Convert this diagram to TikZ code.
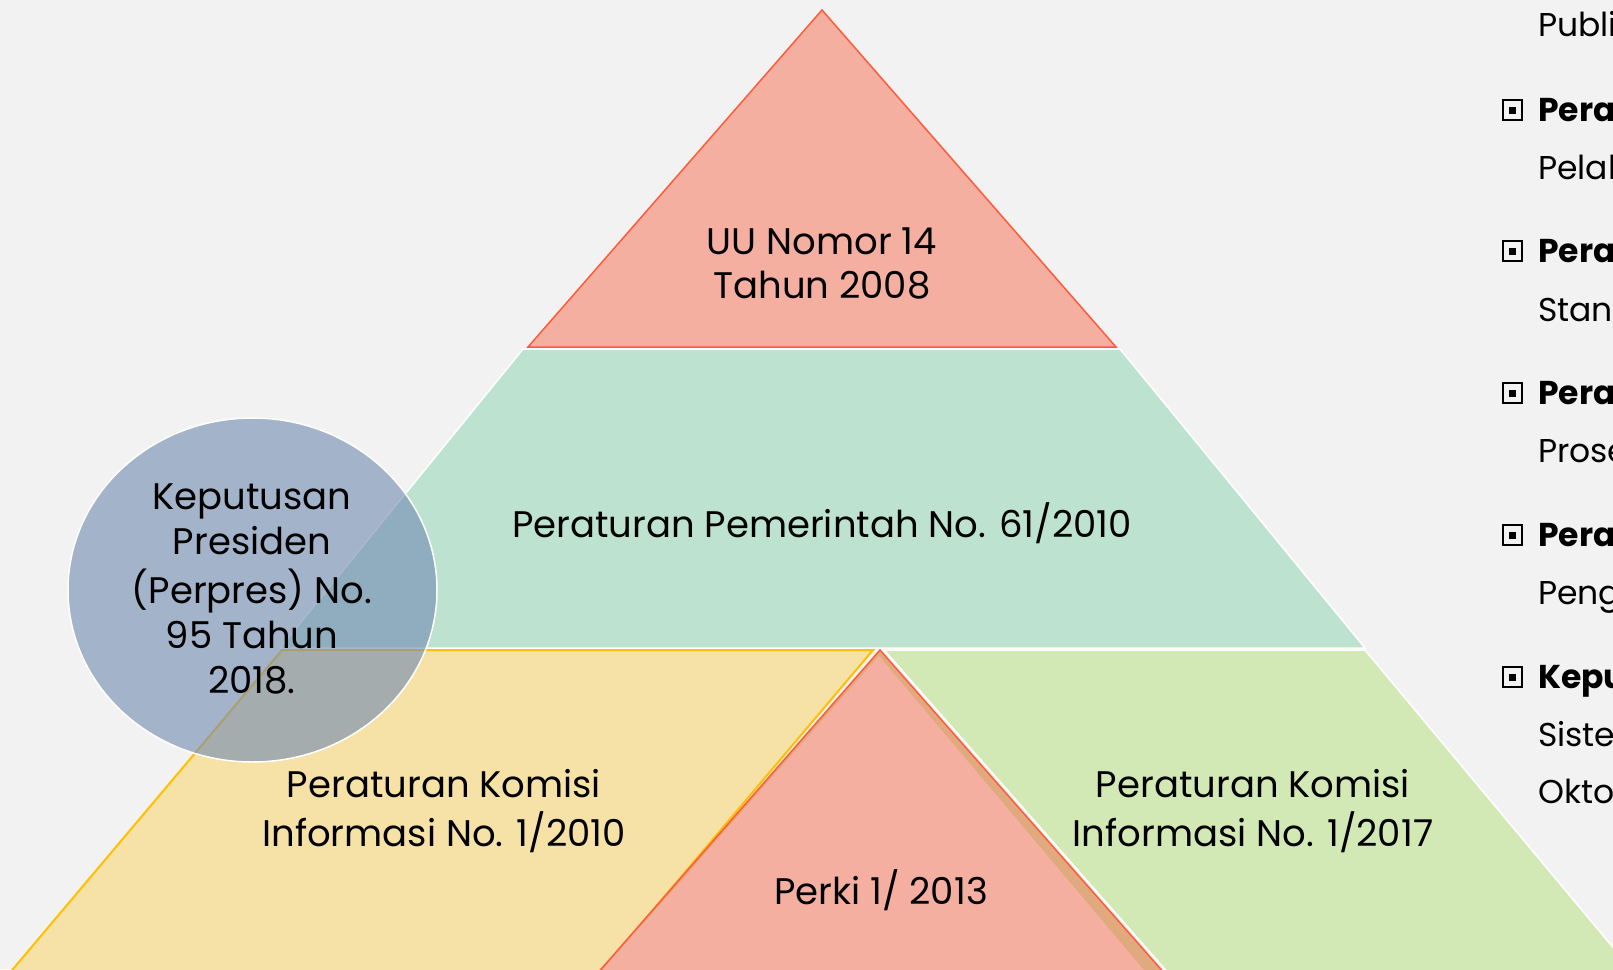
\documentclass[tikz,border=0pt]{standalone}
\usepackage{fontspec}
\setmainfont{Poppins}
\definecolor{bgc}{HTML}{F2F2F2}
\definecolor{salmon}{HTML}{F5AFA0}
\definecolor{redline}{HTML}{FF5A3A}
\definecolor{mintc}{HTML}{BDE2D0}
\definecolor{yelc}{HTML}{F6E1A6}
\definecolor{yelline}{HTML}{FFC000}
\definecolor{grnc}{HTML}{D3E9B5}
\definecolor{brownc}{HTML}{E0A97E}
\definecolor{circc}{HTML}{738DB3}
\begin{document}
\begin{tikzpicture}[x=1pt,y=-1pt,
  lbl/.style={anchor=base, inner sep=0pt, font=\fontsize{37}{44}\selectfont},
  side/.style={anchor=base west, inner sep=0pt, font=\fontsize{33}{40}\selectfont},
  sideb/.style={side, font=\fontsize{33}{40}\selectfont\bfseries}]
\useasboundingbox (0,0) rectangle (1613,969);
\fill[bgc] (0,0) rectangle (1613,969);
\begin{scope}
\clip (0,0) rectangle (1613,969);
% top triangle
\filldraw[fill=salmon, draw=redline, line width=1.5pt] (822,10) -- (528,347) -- (1116,347) -- cycle;
% mint layer
\filldraw[fill=mintc, draw=white, line width=1.5pt] (523,349) -- (1120,349) -- (1365,648) -- (280,648) -- cycle;
% yellow layer
\filldraw[fill=yelc, draw=yelline, line width=2pt] (282,650) -- (873,650) -- (598,975) -- (8,975) -- cycle;
% green layer
\filldraw[fill=grnc, draw=white, line width=1.5pt] (884,650) -- (1365,650) -- (1636,975) -- (1170,975) -- cycle;
% Perki triangle with shadow
\fill[brownc] (880,650) -- (1166,975) -- (596,975) -- cycle;
\fill[salmon] (879,656) -- (1148,975) -- (598,975) -- cycle;
\draw[redline, line width=1.5pt] (596,975) -- (880,650) -- (1166,975);
% circle
\fill[circc, fill opacity=0.62] (252.5,590) ellipse [x radius=184.5pt, y radius=172pt];
\draw[white, line width=1.5pt] (252.5,590) ellipse [x radius=184.5pt, y radius=172pt];
% texts
\node[lbl] (uu) at (822,298) {\begin{tabular}[b]{@{}c@{}}UU Nomor 14\\Tahun 2008\end{tabular}};
\node[lbl] (pp) at (822,537) {Peraturan Pemerintah No. 61/2010};
\node[lbl] (pk1) at (444,846) {\begin{tabular}[b]{@{}c@{}}Peraturan Komisi\\Informasi No. 1/2010\end{tabular}};
\node[lbl] (pk2) at (1253,846) {\begin{tabular}[b]{@{}c@{}}Peraturan Komisi\\Informasi No. 1/2017\end{tabular}};
\node[lbl] (perki) at (881,904) {Perki 1/ 2013};
\node[lbl, font=\fontsize{37}{45}\selectfont] (kep) at (252,693) {\begin{tabular}[b]{@{}c@{}}Keputusan\\Presiden\\(Perpres) No.\\95 Tahun\\2018.\end{tabular}};
% right column
\node[side] (t1) at (1538,36) {Publik};
\node[sideb] (t2) at (1538,121) {Peraturan};
\node[side] (t3) at (1538,179) {Pelaksanaan};
\node[sideb] (t4) at (1538,262) {Peraturan};
\node[side] (t5) at (1538,321) {Standar};
\node[sideb] (t6) at (1538,404) {Peraturan};
\node[side] (t7) at (1538,462) {Prosedur};
\node[sideb] (t8) at (1538,546) {Peraturan};
\node[side] (t9) at (1538,604) {Pengelolaan};
\node[sideb] (t10) at (1538,688) {Keputusan};
\node[side] (t11) at (1538,746) {Sistem};
\node[side] (t12) at (1538,803) {Oktober};
\foreach \b in {121,262,404,546,688}{
  \draw[black, line width=2pt] (1503,\b-21) rectangle (1522,\b-1);
  \fill[black] (1509,\b-14.5) rectangle (1516,\b-7.5);
}
\end{scope}
\end{tikzpicture}
\end{document}
